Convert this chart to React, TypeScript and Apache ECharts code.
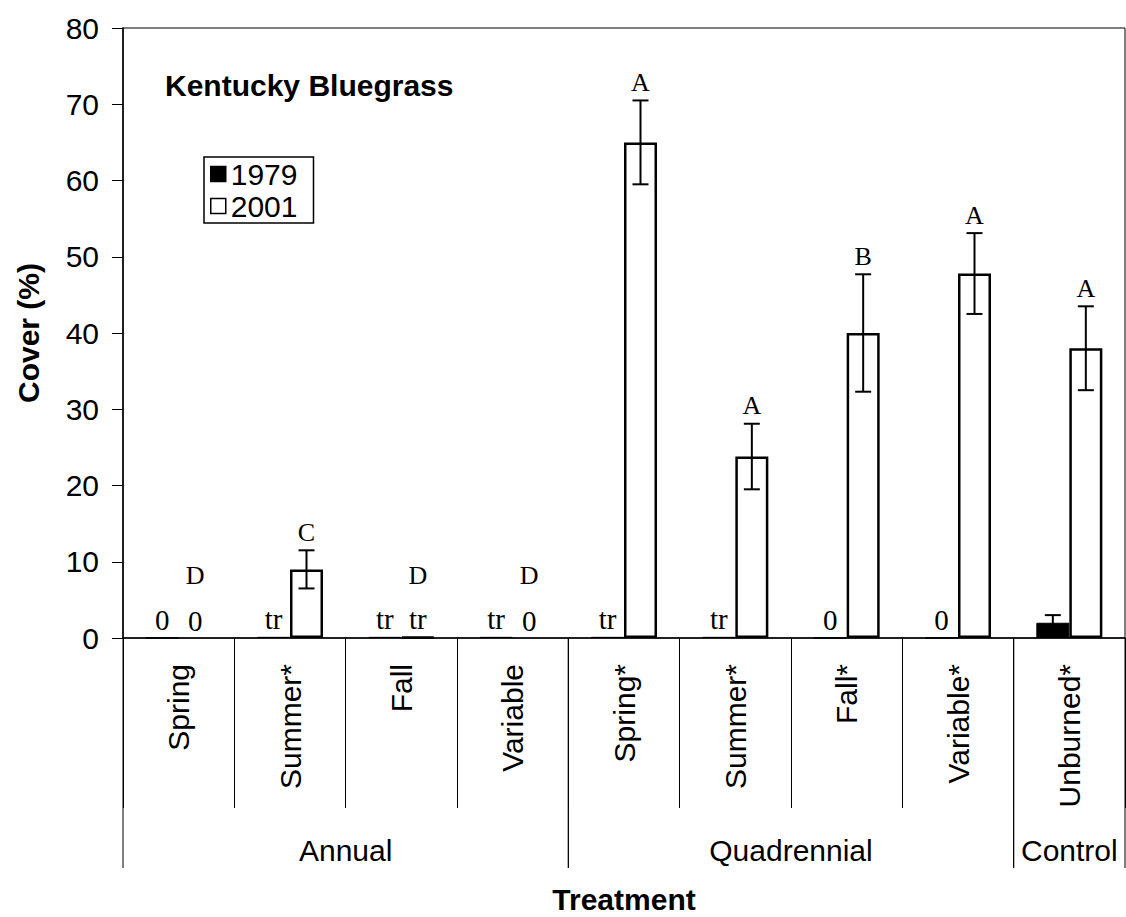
import React, { useEffect, useRef } from "react";
import * as echarts from "echarts";

const categories = ["Spring", "Summer*", "Fall", "Variable", "Spring*", "Summer*", "Fall*", "Variable*", "Unburned*"];
const values1979 = [0, 0.15, 0.15, 0.15, 0.15, 0.15, 0, 0, 2];
const values2001 = [0, 9, 0.15, 0, 65, 23.8, 40, 47.8, 38];
const err1979 = [0, 0, 0, 0, 0, 0, 0, 0, 1];
const err2001 = [0, 2.5, 0, 0, 5.5, 4.3, 7.7, 5.3, 5.5];
const labels1979 = ["0", "tr", "tr", "tr", "tr", "tr", "0", "0", ""];
const labels2001 = ["0", "", "tr", "0", "", "", "", "", ""];
const letters2001 = ["D", "C", "D", "D", "A", "A", "B", "A", "A"];
const groups = [
  { name: "Annual", start: 0, end: 3 },
  { name: "Quadrennial", start: 4, end: 7 },
  { name: "Control", start: 8, end: 8 },
];
const yTicks = [0, 10, 20, 30, 40, 50, 60, 70, 80];

const SANS = "'Liberation Sans', Arial, Helvetica, sans-serif";
const SERIF = "'Liberation Serif', 'Times New Roman', Times, serif";
const BAR_W = 33;

export default function App() {
  const ref = useRef<HTMLDivElement>(null);
  useEffect(() => {
    document.body.style.margin = "0";
    const chart = echarts.init(ref.current!, null, { renderer: "svg" });

    const errSeries = (name: string, vals: number[], errs: number[], offset: number, letters: string[] | null) => ({
      type: "custom",
      name,
      clip: false,
      z: 5,
      data: vals.map((v, i) => [i, v, errs[i]]),
      renderItem: (params: any, api: any) => {
        const i = api.value(0);
        const v = api.value(1);
        const e = api.value(2);
        const base = api.coord([i, 0]);
        const x = base[0] + offset;
        const children: any[] = [];
        let textBottom = base[1] - 50;
        if (e > 0) {
          const top = api.coord([i, v + e])[1];
          const bot = api.coord([i, v - e])[1];
          const ls = { stroke: "#000", lineWidth: 2 };
          children.push({ type: "line", shape: { x1: x, y1: top, x2: x, y2: bot }, style: ls });
          children.push({ type: "line", shape: { x1: x - 8, y1: top, x2: x + 8, y2: top }, style: ls });
          children.push({ type: "line", shape: { x1: x - 8, y1: bot, x2: x + 8, y2: bot }, style: ls });
          textBottom = top - 5;
        }
        const letter = letters ? letters[params.dataIndex] : "";
        if (letter) {
          children.push({
            type: "text",
            style: {
              text: letter,
              x,
              y: textBottom,
              align: "center",
              verticalAlign: "bottom",
              fontSize: 26,
              fontFamily: SERIF,
              fill: "#000",
            },
          });
        }
        return { type: "group", children };
      },
    });

    const groupSeries = {
      type: "custom",
      name: "groups",
      clip: false,
      silent: true,
      data: groups.map((g) => [g.start, g.end]),
      renderItem: (params: any, api: any) => {
        const g = groups[params.dataIndex];
        const w = api.size([1, 0])[0];
        const p0 = api.coord([g.start, 0]);
        const p1 = api.coord([g.end, 0]);
        const xl = p0[0] - w / 2;
        const xr = p1[0] + w / 2;
        const y0 = p0[1];
        const ls = { stroke: "#000", lineWidth: 1 };
        return {
          type: "group",
          children: [
            { type: "line", shape: { x1: xl, y1: y0, x2: xl, y2: y0 + 230 }, style: ls },
            { type: "line", shape: { x1: xr, y1: y0, x2: xr, y2: y0 + 230 }, style: ls },
            {
              type: "text",
              style: {
                text: g.name,
                x: (xl + xr) / 2,
                y: y0 + 212,
                align: "center",
                verticalAlign: "middle",
                fontSize: 30,
                fontFamily: SANS,
                fill: "#000",
              },
            },
          ],
        };
      },
    };

    chart.setOption({
      animation: false,
      backgroundColor: "#fff",
      title: {
        text: "Kentucky Bluegrass",
        left: 165,
        top: 70,
        padding: 0,
        textStyle: { fontSize: 30, fontWeight: "bold", fontFamily: SANS, color: "#000" },
      },
      legend: {
        data: ["1979", "2001"],
        orient: "vertical",
        left: 204,
        top: 157,
        padding: [2, 16, 2, 6],
        itemGap: 2,
        itemWidth: 15,
        itemHeight: 15,
        icon: "rect",
        borderColor: "#000",
        borderWidth: 1.5,
        itemStyle: { borderWidth: 1.5 },
        textStyle: { fontSize: 30, fontFamily: SANS, color: "#000" },
      },
      grid: {
        left: 123,
        top: 28,
        width: 1002,
        height: 610,
        outerBoundsMode: "none",
        containLabel: false,
        show: true,
        borderColor: "#000",
        borderWidth: 1,
        backgroundColor: "transparent",
      },
      xAxis: {
        type: "category",
        data: categories,
        name: "Treatment",
        nameLocation: "middle",
        nameGap: 246,
        nameTextStyle: { fontSize: 30, lineHeight: 30, fontWeight: "bold", fontFamily: SANS, color: "#000" },
        axisLine: { lineStyle: { color: "#000", width: 1.5 } },
        axisTick: { show: true, length: 170, interval: 0, lineStyle: { color: "#000", width: 1 } },
        axisLabel: { rotate: 90, interval: 0, margin: 26, fontSize: 30, fontFamily: SANS, color: "#000" },
      },
      yAxis: {
        type: "value",
        min: yTicks[0],
        max: yTicks[yTicks.length - 1],
        interval: 10,
        name: "Cover (%)",
        nameLocation: "middle",
        nameGap: 80,
        nameRotate: 90,
        nameTextStyle: { fontSize: 30, fontWeight: "bold", fontFamily: SANS, color: "#000" },
        axisLine: { show: true, lineStyle: { color: "#000", width: 1.5 } },
        axisTick: { show: true, length: 11, lineStyle: { color: "#000" } },
        axisLabel: { margin: 24, fontSize: 30, fontFamily: SANS, color: "#000" },
        splitLine: { show: false },
      },
      series: [
        {
          type: "bar",
          name: "1979",
          barWidth: BAR_W,
          barGap: "0%",
          data: values1979,
          itemStyle: { color: "#000", borderColor: "#000", borderWidth: 1 },
          label: {
            show: true,
            position: "top",
            distance: 3,
            fontSize: 29,
            fontFamily: SERIF,
            color: "#000",
            formatter: (p: any) => labels1979[p.dataIndex],
          },
        },
        {
          type: "bar",
          name: "2001",
          barWidth: BAR_W,
          barGap: "0%",
          data: values2001.map((v) => (v === 0 ? { value: v, itemStyle: { borderWidth: 0 } } : v)),
          itemStyle: { color: "#fff", borderColor: "#000", borderWidth: 2.5 },
          label: {
            show: true,
            position: "top",
            distance: 3,
            fontSize: 29,
            fontFamily: SERIF,
            color: "#000",
            formatter: (p: any) => labels2001[p.dataIndex],
          },
        },
        errSeries("err1979", values1979, err1979, -BAR_W / 2, null),
        errSeries("err2001", values2001, err2001, BAR_W / 2, letters2001),
        groupSeries,
      ],
    });
    return () => chart.dispose();
  }, []);
  return <div ref={ref} style={{ width: 1126, height: 917 }} />;
}
